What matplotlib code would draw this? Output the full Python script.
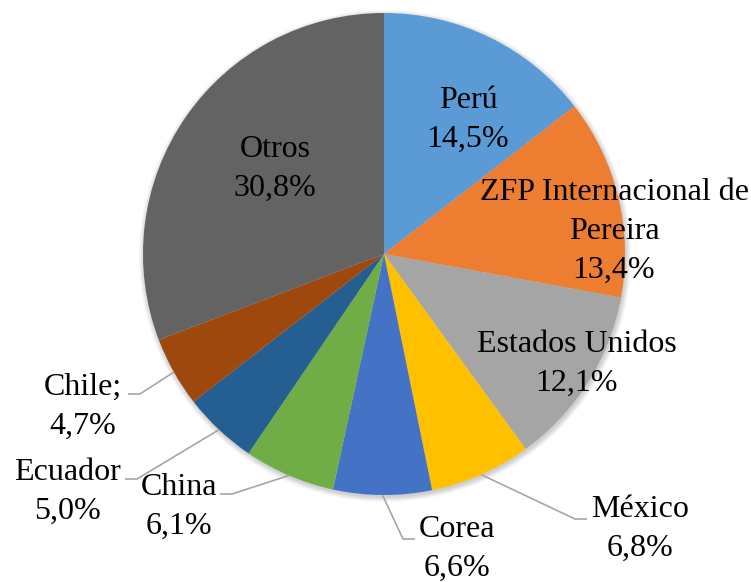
import matplotlib
matplotlib.use("Agg")
import matplotlib.pyplot as plt
import numpy as np
from matplotlib.patches import Circle
from matplotlib import font_manager as fm

# ---- data ----
categories = ["Perú", "ZFP Internacional de\nPereira", "Estados Unidos", "México",
              "Corea", "China", "Ecuador", "Chile;", "Otros"]
values = [14.5, 13.4, 12.1, 6.8, 6.6, 6.1, 5.0, 4.7, 30.8]
pct_labels = ["14,5%", "13,4%", "12,1%", "6,8%", "6,6%", "6,1%", "5,0%", "4,7%", "30,8%"]
colors = ["#5B9BD5", "#ED7D31", "#A5A5A5", "#FFC000", "#4472C4",
          "#70AD47", "#255E91", "#9E480E", "#636363"]

# ---- layout (pixel coords, y downward; visual text-block centers) ----
W, H = 751, 582
CX, CY, R = 384, 254, 241
text_pos = [(468, 116.5), (614, 228.5), (577, 360.5), (640, 526), (457, 546),
            (179, 503.5), (67, 488.5), (83, 403.5), (275, 165.5)]
elbows = [None, None, None, (575, 519, +1), (403, 539, +1), (232, 494, -1),
          (137, 479, -1), (140, 394, -1), None]
VA_FIX = 3  # bbox-centre vs visual-centre correction

names = sorted({f.name for f in fm.fontManager.ttflist})
serif_name = 'DejaVu Serif'
for cand in ['Liberation Serif', 'Times New Roman', 'Nimbus Roman', 'Tinos']:
    if cand in names:
        serif_name = cand
        break

fig = plt.figure(figsize=(W / 100, H / 100), dpi=100)
ax = fig.add_axes([0, 0, 1, 1])

def P(x, y):
    return (x, H - y)

for i in range(8):
    ax.add_patch(Circle(P(CX + 1, CY + 2), R + 5 - i * 0.7, color='black',
                        alpha=0.025, lw=0, zorder=0))

wedges, _ = ax.pie(values, colors=colors, startangle=90, counterclock=False,
                   center=P(CX, CY), radius=R, frame=True,
                   wedgeprops=dict(linewidth=0))
ax.set_xlim(0, W)
ax.set_ylim(0, H)
ax.set_aspect('equal')
ax.axis('off')

for w, cat, pct, tp, el in zip(wedges, categories, pct_labels, text_pos, elbows):
    ax.text(*P(tp[0], tp[1] + VA_FIX), f"{cat}\n{pct}", ha='center', va='center',
            multialignment='center', family=serif_name, fontsize=23,
            color='black', linespacing=1.45, zorder=5)
    if el is not None:
        ang = np.deg2rad((w.theta1 + w.theta2) / 2)
        cx, cy = w.center
        sx, sy = cx + w.r * np.cos(ang), cy + w.r * np.sin(ang)
        ex, ey = P(el[0], el[1])
        ax.plot([sx, ex, ex + 12 * el[2]], [sy, ey, ey], color='#A6A6A6',
                lw=1.2, zorder=4, solid_capstyle='butt')

fig.savefig("out.png", dpi=100, facecolor='white')
